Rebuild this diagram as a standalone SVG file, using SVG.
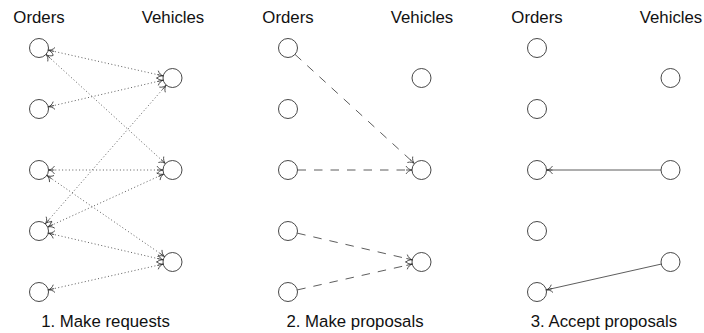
<svg xmlns="http://www.w3.org/2000/svg" width="704" height="333" viewBox="0 0 704 333">
<style>
text{font-family:"Liberation Sans",Arial,sans-serif;font-size:16.8px;fill:#111;text-anchor:middle}
.n{fill:#fff;stroke:#333;stroke-width:0.9}
.e{stroke:#333;stroke-width:0.8;fill:none}
.dot{stroke-dasharray:1 2.4}
.dash{stroke-dasharray:8.5 8}
.both{marker-start:url(#ah);marker-end:url(#ah)}
.end{marker-end:url(#ah)}
</style>
<defs>
<marker id="ah" markerUnits="userSpaceOnUse" viewBox="-7 -5 8 10" refX="0" refY="0" markerWidth="8" markerHeight="10" orient="auto-start-reverse">
<path d="M-6,-4 C-4.6,-1.5 -2,-0.2 0,0 C-2,0.2 -4.6,1.5 -6,4 M-6,0 L0,0" fill="none" stroke="#333" stroke-width="0.8"/>
</marker>
</defs>
<g id="labels">
<text x="39" y="23">Orders</text><text x="173" y="23">Vehicles</text>
<text x="288" y="23">Orders</text><text x="422" y="23">Vehicles</text>
<text x="537" y="23">Orders</text><text x="671" y="23">Vehicles</text>
<text x="105.5" y="327">1. Make requests</text>
<text x="355" y="327">2. Make proposals</text>
<text x="604" y="327">3. Accept proposals</text>
</g>
<g id="connectors">
<line class="e dot both" x1="48.27" y1="50.08" x2="163.23" y2="75.92"/>
<line class="e dot both" x1="46.01" y1="54.41" x2="165.49" y2="163.59"/>
<line class="e dot both" x1="48.25" y1="106.85" x2="163.25" y2="80.15"/>
<line class="e dot both" x1="48.5" y1="170" x2="163" y2="170"/>
<line class="e dot both" x1="46.82" y1="175.39" x2="164.68" y2="256.61"/>
<line class="e dot both" x1="45.25" y1="223.84" x2="166.25" y2="85.16"/>
<line class="e dot both" x1="47.64" y1="227.05" x2="163.86" y2="173.95"/>
<line class="e dot both" x1="48.25" y1="233.15" x2="163.25" y2="259.85"/>
<line class="e dot both" x1="48.27" y1="289.92" x2="163.23" y2="264.08"/>
<line class="e dash end" x1="295.01" y1="54.41" x2="414.49" y2="163.59"/>
<line class="e dash end" x1="297.5" y1="170" x2="412" y2="170"/>
<line class="e dash end" x1="297.25" y1="233.15" x2="412.25" y2="259.85"/>
<line class="e dash end" x1="297.27" y1="289.92" x2="412.23" y2="264.08"/>
<line class="e end" x1="661" y1="170" x2="546.5" y2="170"/>
<line class="e end" x1="661.23" y1="264.08" x2="546.27" y2="289.92"/>
</g>
<g id="p1-o1"><circle class="n" cx="39" cy="48" r="9.5"/></g>
<g id="p1-o2"><circle class="n" cx="39" cy="109" r="9.5"/></g>
<g id="p1-o3"><circle class="n" cx="39" cy="170" r="9.5"/></g>
<g id="p1-o4"><circle class="n" cx="39" cy="231" r="9.5"/></g>
<g id="p1-o5"><circle class="n" cx="39" cy="292" r="9.5"/></g>
<g id="p1-v1"><circle class="n" cx="172.5" cy="78" r="9.5"/></g>
<g id="p1-v2"><circle class="n" cx="172.5" cy="170" r="9.5"/></g>
<g id="p1-v3"><circle class="n" cx="172.5" cy="262" r="9.5"/></g>
<g id="p2-o1"><circle class="n" cx="288" cy="48" r="9.5"/></g>
<g id="p2-o2"><circle class="n" cx="288" cy="109" r="9.5"/></g>
<g id="p2-o3"><circle class="n" cx="288" cy="170" r="9.5"/></g>
<g id="p2-o4"><circle class="n" cx="288" cy="231" r="9.5"/></g>
<g id="p2-o5"><circle class="n" cx="288" cy="292" r="9.5"/></g>
<g id="p2-v1"><circle class="n" cx="421.5" cy="78" r="9.5"/></g>
<g id="p2-v2"><circle class="n" cx="421.5" cy="170" r="9.5"/></g>
<g id="p2-v3"><circle class="n" cx="421.5" cy="262" r="9.5"/></g>
<g id="p3-o1"><circle class="n" cx="537" cy="48" r="9.5"/></g>
<g id="p3-o2"><circle class="n" cx="537" cy="109" r="9.5"/></g>
<g id="p3-o3"><circle class="n" cx="537" cy="170" r="9.5"/></g>
<g id="p3-o4"><circle class="n" cx="537" cy="231" r="9.5"/></g>
<g id="p3-o5"><circle class="n" cx="537" cy="292" r="9.5"/></g>
<g id="p3-v1"><circle class="n" cx="670.5" cy="78" r="9.5"/></g>
<g id="p3-v2"><circle class="n" cx="670.5" cy="170" r="9.5"/></g>
<g id="p3-v3"><circle class="n" cx="670.5" cy="262" r="9.5"/></g>
</svg>
